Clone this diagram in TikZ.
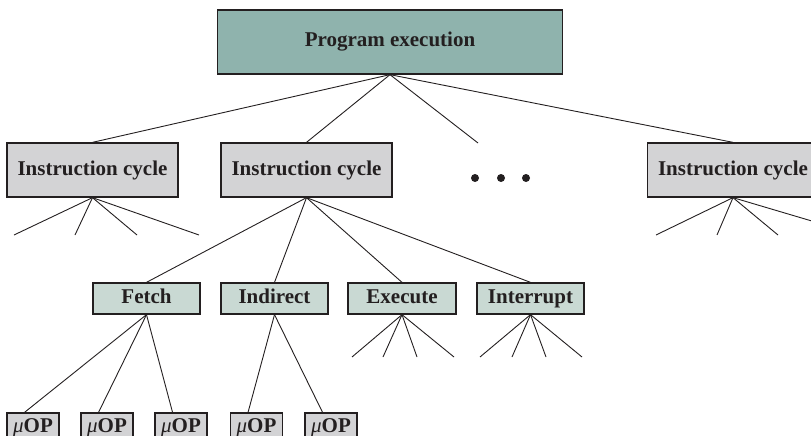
\documentclass[tikz,border=0pt]{standalone}
\usepackage{fontspec}
\setmainfont{Liberation Serif}
\usepackage{xcolor}
\usepackage{tikz}
\usetikzlibrary{calc}
\definecolor{progfill}{RGB}{143,179,173}
\definecolor{cyclefill}{RGB}{211,211,213}
\definecolor{phasefill}{RGB}{201,217,211}
\definecolor{inkgray}{RGB}{35,31,32}
\tikzset{
  boxbase/.style  = {draw=inkgray, line width=1.3pt, inner sep=0pt, text=inkgray,
                     text height=14pt, text depth=4pt,
                     font=\fontsize{21}{24}\selectfont\bfseries},
  progbox/.style  = {boxbase, fill=progfill, minimum width=345pt, minimum height=64pt},
  cyclebox/.style = {boxbase, fill=cyclefill, minimum width=171pt, minimum height=54pt},
  phasebox/.style = {boxbase, fill=phasefill, minimum width=107pt, minimum height=31pt},
  uopbox/.style   = {boxbase, fill=cyclefill, minimum width=52pt, minimum height=28pt},
  branch/.style   = {draw=inkgray, line width=0.9pt},
  dotmark/.style  = {circle, fill=inkgray, inner sep=0pt, minimum size=8pt},
}
\newcommand{\uop}{{\normalfont\itshape μ}OP}

\begin{document}
\begin{tikzpicture}[x=1pt, y=-1pt]
  \path[use as bounding box, clip] (0,0) rectangle (811,436);
  \node[progbox]  (prog) at (390, 42) {Program execution};
  \node[cyclebox] (ic1)  at (92.5, 170) {Instruction cycle};
  \node[cyclebox] (ic2)  at (306.5, 170) {Instruction cycle};
  \node[cyclebox] (ic4)  at (733, 170) {Instruction cycle};
  \node[dotmark]  (d1)   at (475, 178) {};
  \node[dotmark]  (d2)   at (501, 178) {};
  \node[dotmark]  (d3)   at (526, 178) {};
  \node[phasebox] (fetch)     at (146.5, 298.5) {Fetch};
  \node[phasebox] (indirect)  at (274.5, 298.5) {Indirect};
  \node[phasebox, minimum width=108pt] (execute) at (402, 298.5) {Execute};
  \node[phasebox] (interrupt) at (530.5, 298.5) {Interrupt};
  \node[uopbox] (u1) at (33, 427) {\uop};
  \node[uopbox] (u2) at (107, 427) {\uop};
  \node[uopbox] (u3) at (181, 427) {\uop};
  \node[uopbox] (u4) at (256.5, 427) {\uop};
  \node[uopbox] (u5) at (331, 427) {\uop};
  \coordinate (ic3) at (478, 143);
  \coordinate (a1) at (14, 235);
  \coordinate (a2) at (75, 235);
  \coordinate (a3) at (137, 235);
  \coordinate (a4) at (199, 235);
  \coordinate (b1) at (656, 235);
  \coordinate (b2) at (717, 235);
  \coordinate (b3) at (778, 235);
  \coordinate (b4) at (859, 235);
  \coordinate (e1) at (352, 357);
  \coordinate (e2) at (383, 357);
  \coordinate (e3) at (417, 357);
  \coordinate (e4) at (454, 357);
  \coordinate (r1) at (480, 357);
  \coordinate (r2) at (512, 357);
  \coordinate (r3) at (546, 357);
  \coordinate (r4) at (582, 357);
  \draw[branch] (prog.south) -- (ic1.north);
  \draw[branch] (prog.south) -- (ic2.north);
  \draw[branch] (prog.south) -- (ic3);
  \draw[branch] (prog.south) -- (ic4.north);
  \draw[branch] (ic1.south) -- (a1);
  \draw[branch] (ic1.south) -- (a2);
  \draw[branch] (ic1.south) -- (a3);
  \draw[branch] (ic1.south) -- (a4);
  \draw[branch] (ic4.south) -- (b1);
  \draw[branch] (ic4.south) -- (b2);
  \draw[branch] (ic4.south) -- (b3);
  \draw[branch] (ic4.south) -- (b4);
  \draw[branch] (ic2.south) -- (fetch.north);
  \draw[branch] (ic2.south) -- (indirect.north);
  \draw[branch] (ic2.south) -- (execute.north);
  \draw[branch] (ic2.south) -- (interrupt.north);
  \draw[branch] (fetch.south) -- (u1.120);
  \draw[branch] (fetch.south) -- (u2.120);
  \draw[branch] (fetch.south) -- (u3.120);
  \draw[branch] (indirect.south) -- (u4.120);
  \draw[branch] (indirect.south) -- (u5.120);
  \draw[branch] (execute.south) -- (e1);
  \draw[branch] (execute.south) -- (e2);
  \draw[branch] (execute.south) -- (e3);
  \draw[branch] (execute.south) -- (e4);
  \draw[branch] (interrupt.south) -- (r1);
  \draw[branch] (interrupt.south) -- (r2);
  \draw[branch] (interrupt.south) -- (r3);
  \draw[branch] (interrupt.south) -- (r4);
\end{tikzpicture}
\end{document}
